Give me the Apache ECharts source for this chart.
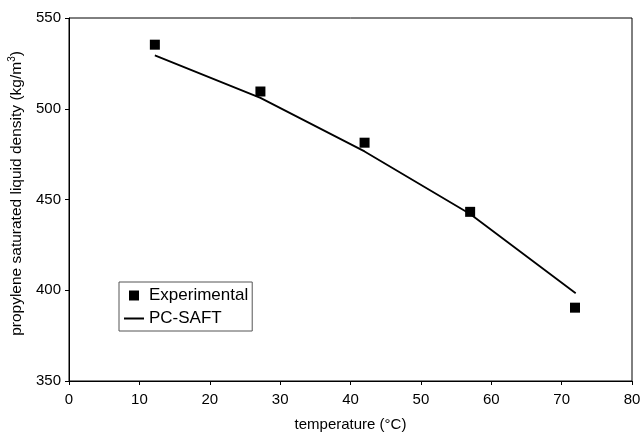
<!DOCTYPE html>
<html lang="en" style="height: 100%">
<head>
  <meta charset="utf-8">
</head>
<body style="height: 100%; margin: 0; background: #fff">
  <div id="container" style="height: 100%"></div>

  <script type="text/javascript" src="https://fastly.jsdelivr.net/npm/echarts@6/dist/echarts.min.js"></script>
  <script type="text/javascript">
    // experimental points: temperature (°C), density (kg/m3)
    var expTemp = [12.2, 27.2, 42.0, 57.0, 71.9];
    var expDensity = [535.3, 509.5, 481.3, 443.2, 390.4];
    // PC-SAFT model curve
    var saftTemp = [12.2, 27.2, 42.0, 57.0, 72.0];
    var saftDensity = [529.4, 506.0, 476.5, 442.0, 398.3];
    var xTicks = { min: 0, max: 80, interval: 10 };
    var yTicks = { min: 350, max: 550, interval: 50 };

    var dom = document.getElementById('container');
    var myChart = echarts.init(dom, null, { renderer: 'canvas' });

    var font = 'Liberation Sans, Arial, sans-serif';

    var option = {
      backgroundColor: '#fff',
      animation: false,
      textStyle: { fontFamily: font, color: '#000' },
      grid: {
        left: 69,
        right: 9,
        top: 18,
        bottom: 52,
        outerBoundsMode: 'none',
        containLabel: false,
        show: true,
        borderColor: '#000',
        borderWidth: 1
      },
      legend: {
        orient: 'vertical',
        left: 119,
        top: 282,
        padding: [5, 4, 4, 5],
        itemWidth: 20,
        itemHeight: 10,
        itemGap: 6,
        symbolKeepAspect: true,
        backgroundColor: '#fff',
        borderColor: '#555',
        borderWidth: 1,
        textStyle: { fontFamily: font, fontSize: 17, color: '#000' },
        data: [
          { name: 'Experimental', icon: 'path://M0,0h10v10h-10z' },
          { name: 'PC-SAFT', icon: 'path://M0,0h20v2h-20z' }
        ]
      },
      xAxis: {
        type: 'value',
        min: xTicks.min,
        max: xTicks.max,
        interval: xTicks.interval,
        name: 'temperature (°C)',
        nameLocation: 'middle',
        nameGap: 36,
        nameTextStyle: { fontFamily: font, fontSize: 15, color: '#000' },
        axisLine: { lineStyle: { color: '#000', width: 1 } },
        axisTick: { show: true, length: 4, lineStyle: { color: '#000' } },
        axisLabel: { fontFamily: font, fontSize: 15, color: '#000', margin: 11 },
        splitLine: { show: false }
      },
      yAxis: {
        type: 'value',
        min: yTicks.min,
        max: yTicks.max,
        interval: yTicks.interval,
        name: '{a|propylene saturated liquid density (kg/m}{s|3}{a|)}',
        nameLocation: 'middle',
        nameGap: 43,
        nameRotate: 90,
        nameTextStyle: {
          padding: [0, 0, 0, 12],
          rich: {
            a: { fontFamily: font, fontSize: 15.5, color: '#000' },
            s: { fontFamily: font, fontSize: 10, color: '#000', padding: [0, 0, 9, 0] }
          }
        },
        axisLine: { show: true, lineStyle: { color: '#000', width: 1 } },
        axisTick: { show: true, length: 4, lineStyle: { color: '#000' } },
        axisLabel: { fontFamily: font, fontSize: 15, color: '#000', margin: 8 },
        splitLine: { show: false }
      },
      series: [
        {
          name: 'Experimental',
          type: 'scatter',
          symbol: 'rect',
          symbolSize: 10,
          itemStyle: { color: '#000', opacity: 1 },
          data: expTemp.map(function (t, i) { return [t, expDensity[i]]; }),
          z: 3
        },
        {
          name: 'PC-SAFT',
          type: 'line',
          symbol: 'none',
          smooth: false,
          lineStyle: { color: '#000', width: 1.8 },
          itemStyle: { color: '#000' },
          data: saftTemp.map(function (t, i) { return [t, saftDensity[i]]; }),
          z: 2
        }
      ]
    };

    myChart.setOption(option);
    window.addEventListener('resize', myChart.resize);
  </script>
</body>
</html>
